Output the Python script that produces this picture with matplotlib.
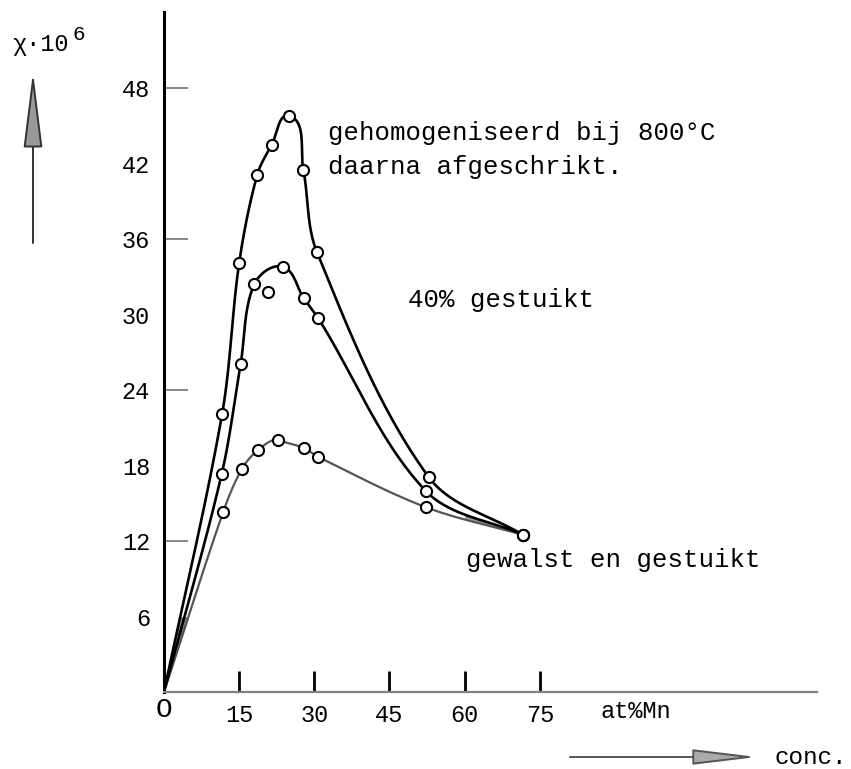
import numpy as np
import matplotlib.pyplot as plt
from matplotlib.patches import FancyArrowPatch

hom_x = [11.6, 15.0, 18.6, 21.5, 25.0, 27.8, 30.5, 52.8, 71.6]
hom_y = [22.1, 34.1, 41.1, 43.5, 45.8, 41.5, 35.0, 17.1, 12.5]

stuik_x = [11.5, 15.3, 18.0, 20.8, 23.7, 27.9, 30.8, 52.2, 71.6]
stuik_y = [17.3, 26.1, 32.4, 31.8, 33.8, 31.3, 29.7, 16.0, 12.5]
stuik_on_curve = [1, 1, 1, 0, 1, 1, 1, 1, 1]   # one point lies off the drawn curve

walst_x = [11.8, 15.5, 18.7, 22.8, 27.9, 30.7, 52.2, 71.6]
walst_y = [14.3, 17.7, 19.2, 20.0, 19.4, 18.7, 14.7, 12.5]

ytick_marks = [12, 24, 36, 48]
ytick_labels = [6, 12, 18, 24, 30, 36, 42, 48]
xticks = [15, 30, 45, 60, 75]

label_hom = ["gehomogeniseerd bij 800°C", "daarna afgeschrikt."]
label_stuik = "40% gestuikt"
label_walst = "gewalst en gestuikt"

plt.rcParams['font.family'] = ["Liberation Mono", "DejaVu Sans Mono"]

W, H = 851, 769
x0, y0 = 164, 692          # pixel position of the origin
sx, sy = 5.01, 12.58        # pixels per unit


def smooth_curve(xs, ys, n=40):
    # hermite curve through the knots, tangents taken in pixel space,
    # flat at a local maximum
    p = np.column_stack([np.array(xs) * sx, np.array(ys) * sy])
    m = len(p)
    tang = np.zeros_like(p)
    for i in range(m):
        if i == 0:
            d = p[1] - p[0]
        elif i == m - 1:
            d = p[-1] - p[-2]
        elif p[i, 1] > p[i - 1, 1] and p[i, 1] > p[i + 1, 1]:
            d = np.array([1.0, -0.3])
        else:
            d = p[i + 1] - p[i - 1]
        tang[i] = d / np.hypot(*d)
    t = np.linspace(0, 1, n)[:, None]
    out = [p[:1]]
    for i in range(m - 1):
        L = np.hypot(*(p[i + 1] - p[i]))
        c1 = p[i] + tang[i] * L / 3
        c2 = p[i + 1] - tang[i + 1] * L / 3
        seg = ((1 - t) ** 3 * p[i] + 3 * (1 - t) ** 2 * t * c1
               + 3 * (1 - t) * t ** 2 * c2 + t ** 3 * p[i + 1])
        out.append(seg[1:])
    c = np.vstack(out)
    return c[:, 0] / sx, c[:, 1] / sy


fig = plt.figure(figsize=(8.51, 7.69), dpi=100)
ax = fig.add_axes([x0 / W, (H - y0) / H, (817 - x0) / W, (y0 - 12) / H])
ax.set_xlim(0, (817 - x0) / sx)
ax.set_ylim(0, (y0 - 12) / sy)

for s in ['top', 'right']:
    ax.spines[s].set_visible(False)
ax.spines['left'].set_linewidth(2.2)
ax.spines['left'].set_color('black')
ax.spines['bottom'].set_linewidth(1.6)
ax.spines['bottom'].set_color('#808080')

ax.set_xticks(xticks)
ax.set_xticklabels([str(v) for v in xticks])
ax.tick_params(axis='x', direction='in', length=15, width=2.0, color='black',
               pad=9, labelsize=17)
ax.yaxis.remove_overlapping_locs = False
ax.set_yticks(ytick_marks)
ax.set_yticklabels([])
ax.tick_params(axis='y', which='major', direction='in', length=17, width=1.4,
               color='#888888')
ax.set_yticks(ytick_labels, minor=True)
ax.set_yticklabels([str(v) for v in ytick_labels], minor=True)
ax.tick_params(axis='y', which='minor', length=0, pad=10, labelsize=17)

# curves start at the origin
hx, hy = smooth_curve([0] + hom_x, [0] + hom_y)
sx_c = [x for x, k in zip(stuik_x, stuik_on_curve) if k]
sy_c = [y for y, k in zip(stuik_y, stuik_on_curve) if k]
mx, my = smooth_curve([0] + sx_c, [0] + sy_c)
wx, wy = smooth_curve([0] + walst_x, [0] + walst_y)

# grey smudge where the lines run together near the origin and near the end
band = np.linspace(0, 6, 20)
ax.fill_betweenx(band, band * hom_x[0] / hom_y[0], band * walst_x[0] / walst_y[0],
                 color='#8a8a8a', lw=0, zorder=1)
tail = np.linspace(60, walst_x[-1], 30)
ax.fill_between(tail, np.interp(tail, wx[wx > 40], wy[wx > 40]),
                np.interp(tail, mx[mx > 40], my[mx > 40]),
                color='#9a9a9a', lw=0, zorder=1)

ax.plot(wx, wy, lw=1.6, color='#555555', zorder=2)
ax.plot(mx, my, lw=1.9, color='black', zorder=2)
ax.plot(hx, hy, lw=1.9, color='black', zorder=2)

mk = dict(ls='none', marker='o', ms=8, mfc='white', mec='black', mew=1.5,
          zorder=3, clip_on=False)
ax.plot(hom_x, hom_y, **mk)
ax.plot(stuik_x, stuik_y, **mk)
ax.plot(walst_x, walst_y, **mk)


def px(x, y):
    return (x - x0) / sx, (y0 - y) / sy


ax.text(*px(328, 133), label_hom[0], fontsize=18.5, va='center', ha='left')
ax.text(*px(328, 167), label_hom[1], fontsize=18.5, va='center', ha='left')
ax.text(*px(408, 300), label_stuik, fontsize=18.5, va='center', ha='left')
ax.text(*px(466, 560), label_walst, fontsize=18.5, va='center', ha='left')

ax.text(*px(164, 710), "O", fontsize=20, ha='center', va='center', clip_on=False)
ax.text(*px(600, 711), "at%Mn", fontsize=17, ha='left', va='center', clip_on=False)
ax.text(*px(774, 757), "conc.", fontsize=17.5, ha='left', va='center', clip_on=False)
ax.text(*px(12, 45), "χ·10", fontsize=17, ha='left', va='center', clip_on=False)
ax.text(*px(73, 34), "6", fontsize=15, ha='left', va='center', clip_on=False)

arr_y = FancyArrowPatch(px(33, 243), px(33, 72), transform=ax.transData,
                        arrowstyle='-|>,head_length=2.4,head_width=0.3',
                        mutation_scale=20, lw=1.4, ec='#333333', fc='#999999',
                        shrinkA=0, shrinkB=0, clip_on=False)
arr_x = FancyArrowPatch(px(570, 757), px(757, 757), transform=ax.transData,
                        arrowstyle='-|>,head_length=2.0,head_width=0.24',
                        mutation_scale=20, lw=1.4, ec='#555555', fc='#aaaaaa',
                        shrinkA=0, shrinkB=0, clip_on=False)
ax.add_patch(arr_y)
ax.add_patch(arr_x)

fig.savefig("out.png", dpi=100)
